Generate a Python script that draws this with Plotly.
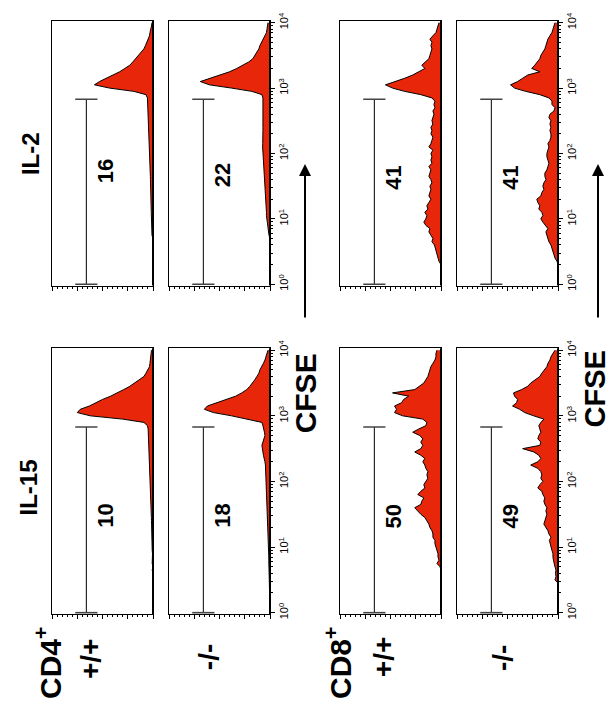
import numpy as np
import plotly.graph_objects as go

# CFSE channel positions (log10 fluorescence), bin centres 10^0 .. 10^4
CFSE_LOG = [round(i * 0.05, 2) for i in range(81)]

# Histogram heights (fraction of panel full scale)
CD4_WT_IL2 = [0, 0, 0, 0, 0, 0, 0, 0, 0, 0,
              0, 0, 0, 0, 0, 0.01, 0.01, 0.012, 0.012, 0.014,
              0.015, 0.016, 0.017, 0.018, 0.018, 0.019, 0.02, 0.02, 0.021, 0.022,
              0.024, 0.025, 0.025, 0.026, 0.027, 0.028, 0.028, 0.029, 0.03, 0.03,
              0.031, 0.033, 0.034, 0.035, 0.036, 0.037, 0.038, 0.04, 0.04, 0.042,
              0.043, 0.044, 0.046, 0.047, 0.048, 0.05, 0.05, 0.055, 0.07, 0.19,
              0.43, 0.58, 0.53, 0.46, 0.39, 0.33, 0.28, 0.23, 0.20, 0.17,
              0.14, 0.12, 0.09, 0.075, 0.06, 0.05, 0.035, 0.03, 0.02, 0.015,
              0.01]
CD4_KO_IL2 = [0, 0, 0, 0, 0, 0, 0, 0, 0, 0,
              0, 0, 0, 0, 0, 0.01, 0.015, 0.02, 0.025, 0.03,
              0.035, 0.035, 0.035, 0.037, 0.038, 0.04, 0.04, 0.042, 0.045, 0.048,
              0.05, 0.052, 0.055, 0.058, 0.06, 0.062, 0.065, 0.068, 0.07, 0.072,
              0.075, 0.075, 0.073, 0.072, 0.07, 0.07, 0.07, 0.07, 0.07, 0.07,
              0.07, 0.072, 0.07, 0.068, 0.068, 0.07, 0.07, 0.07, 0.08, 0.18,
              0.38, 0.60, 0.69, 0.59, 0.48, 0.40, 0.33, 0.27, 0.21, 0.17,
              0.15, 0.13, 0.11, 0.10, 0.085, 0.07, 0.05, 0.035, 0.03, 0.025,
              0.02]
CD4_WT_IL15 = [0, 0, 0, 0, 0, 0, 0, 0, 0, 0,
               0, 0.005, 0, 0.008, 0, 0.008, 0.005, 0.008, 0.005, 0.008,
               0.008, 0.01, 0.008, 0.01, 0.01, 0.012, 0.012, 0.014, 0.015, 0.016,
               0.017, 0.018, 0.02, 0.02, 0.022, 0.022, 0.024, 0.025, 0.026, 0.028,
               0.028, 0.03, 0.03, 0.032, 0.034, 0.035, 0.036, 0.038, 0.04, 0.04,
               0.042, 0.043, 0.044, 0.045, 0.046, 0.046, 0.048, 0.055, 0.09, 0.30,
               0.62, 0.75, 0.72, 0.63, 0.57, 0.50, 0.42, 0.35, 0.29, 0.23,
               0.18, 0.13, 0.09, 0.07, 0.05, 0.035, 0.03, 0.025, 0.02, 0.02,
               0.015]
CD4_KO_IL15 = [0, 0, 0, 0, 0.003, 0.004, 0.005, 0.005, 0.006, 0.006,
               0.007, 0.008, 0.01, 0.01, 0.011, 0.011, 0.012, 0.012, 0.013, 0.014,
               0.015, 0.015, 0.016, 0.017, 0.018, 0.019, 0.02, 0.02, 0.021, 0.022,
               0.024, 0.025, 0.027, 0.028, 0.03, 0.03, 0.031, 0.032, 0.033, 0.034,
               0.035, 0.035, 0.036, 0.038, 0.04, 0.045, 0.05, 0.06, 0.065, 0.07,
               0.075, 0.08, 0.07, 0.06, 0.05, 0.055, 0.06, 0.07, 0.08, 0.22,
               0.38, 0.56, 0.65, 0.62, 0.52, 0.42, 0.34, 0.28, 0.23, 0.20,
               0.17, 0.15, 0.13, 0.11, 0.10, 0.08, 0.065, 0.05, 0.04, 0.03,
               0.02]
CD8_WT_IL2 = [0, 0, 0, 0, 0, 0, 0, 0.02, 0.03, 0.04,
              0.05, 0.06, 0.065, 0.09, 0.08, 0.10, 0.12, 0.11, 0.15, 0.17,
              0.15, 0.14, 0.16, 0.13, 0.14, 0.12, 0.10, 0.12, 0.11, 0.10,
              0.11, 0.09, 0.10, 0.12, 0.11, 0.10, 0.12, 0.09, 0.10, 0.09,
              0.10, 0.08, 0.12, 0.10, 0.09, 0.08, 0.10, 0.09, 0.10, 0.08,
              0.09, 0.08, 0.07, 0.08, 0.06, 0.07, 0.06, 0.09, 0.20, 0.36,
              0.48, 0.55, 0.45, 0.36, 0.28, 0.22, 0.16, 0.19, 0.15, 0.12,
              0.11, 0.10, 0.09, 0.10, 0.09, 0.11, 0.08, 0.05, 0.04, 0.03,
              0.02]
CD8_KO_IL2 = [0, 0, 0, 0, 0, 0, 0, 0.01, 0.03, 0.04,
              0.05, 0.06, 0.07, 0.09, 0.10, 0.11, 0.12, 0.10, 0.13, 0.15,
              0.17, 0.15, 0.16, 0.19, 0.18, 0.20, 0.21, 0.17, 0.16, 0.14,
              0.15, 0.14, 0.12, 0.13, 0.13, 0.11, 0.10, 0.09, 0.10, 0.11,
              0.11, 0.10, 0.09, 0.10, 0.08, 0.07, 0.07, 0.08, 0.07, 0.08,
              0.07, 0.09, 0.08, 0.04, 0.03, 0.06, 0.06, 0.09, 0.18, 0.32,
              0.43, 0.47, 0.40, 0.35, 0.30, 0.18, 0.26, 0.23, 0.20, 0.18,
              0.17, 0.15, 0.13, 0.12, 0.11, 0.10, 0.08, 0.06, 0.05, 0.04,
              0.03]
CD8_WT_IL15 = [0, 0, 0, 0, 0, 0, 0, 0, 0, 0,
               0, 0, 0, 0, 0.01, 0.04, 0.02, 0.03, 0.03, 0.04,
               0.05, 0.06, 0.06, 0.08, 0.08, 0.09, 0.11, 0.12, 0.14, 0.16,
               0.20, 0.23, 0.26, 0.20, 0.19, 0.17, 0.23, 0.20, 0.16, 0.17,
               0.15, 0.13, 0.14, 0.13, 0.15, 0.16, 0.18, 0.16, 0.20, 0.26,
               0.20, 0.18, 0.20, 0.18, 0.21, 0.28, 0.22, 0.15, 0.14, 0.18,
               0.38, 0.46, 0.44, 0.46, 0.39, 0.37, 0.32, 0.48, 0.26, 0.22,
               0.17, 0.15, 0.13, 0.12, 0.11, 0.10, 0.08, 0.06, 0.05, 0.05,
               0.04]
CD8_KO_IL15 = [0, 0, 0, 0, 0, 0, 0, 0, 0, 0,
               0.03, 0.02, 0.025, 0.02, 0.03, 0.04, 0.045, 0.05, 0.05, 0.06,
               0.07, 0.08, 0.085, 0.07, 0.09, 0.10, 0.12, 0.14, 0.13, 0.12,
               0.11, 0.12, 0.11, 0.13, 0.14, 0.13, 0.15, 0.16, 0.20, 0.18,
               0.15, 0.17, 0.16, 0.17, 0.20, 0.27, 0.20, 0.17, 0.19, 0.24,
               0.35, 0.18, 0.17, 0.20, 0.19, 0.17, 0.18, 0.19, 0.17, 0.14,
               0.24, 0.33, 0.38, 0.45, 0.41, 0.40, 0.43, 0.44, 0.36, 0.30,
               0.27, 0.22, 0.18, 0.16, 0.13, 0.11, 0.10, 0.08, 0.07, 0.05,
               0.03]

ROW_NAMES = ["CD4 +/+", "CD4 -/-", "CD8 +/+", "CD8 -/-"]
IL2_DATA = [CD4_WT_IL2, CD4_KO_IL2, CD8_WT_IL2, CD8_KO_IL2]
IL15_DATA = [CD4_WT_IL15, CD4_KO_IL15, CD8_WT_IL15, CD8_KO_IL15]
PCT_IL2 = [16, 22, 41, 41]
PCT_IL15 = [10, 18, 50, 49]

# gate (marker) limits in log10 CFSE
GATE_LOG = [0.0, 2.83]

for arr in IL2_DATA + IL15_DATA:
    assert len(arr) == len(CFSE_LOG)

# ---------------- layout geometry (page pixels) ----------------
W, H = 613, 719


def fx(px):
    return px / W


def fy(py):
    return 1 - py / H


ROW_X = [(52, 153), (169, 270), (340, 441), (457, 558)]
CYT_Y = {"IL-2": (12, 282), "IL-15": (346, 617)}
LABEL_LOG = {"IL-2": [1.72, 1.66, 1.62, 1.62], "IL-15": [1.47, 1.47, 1.46, 1.46]}
RED = "#E8260A"
FONT = "Liberation Sans, Arial, Helvetica, sans-serif"

fig = go.Figure()
layout = {}
shapes = []
annotations = []

minor_vals = [d + np.log10(m) for d in range(4) for m in range(2, 10)]

k = 0
for cyt, datasets, pcts in [("IL-2", IL2_DATA, PCT_IL2), ("IL-15", IL15_DATA, PCT_IL15)]:
    for row, (data, pct) in enumerate(zip(datasets, pcts)):
        k += 1
        xs = f"x{k}" if k > 1 else "x"
        ys = f"y{k}" if k > 1 else "y"
        xa = f"xaxis{k}" if k > 1 else "xaxis"
        ya = f"yaxis{k}" if k > 1 else "yaxis"
        px0, px1 = ROW_X[row]
        py0, py1 = CYT_Y[cyt]
        fig.add_trace(go.Scatter(
            x=data, y=CFSE_LOG, mode="lines", fill="tozerox", fillcolor=RED,
            line=dict(color="black", width=1), xaxis=xs, yaxis=ys,
            hoverinfo="skip", showlegend=False))
        # gate marker
        gx, cap = 0.66, 0.11
        fig.add_trace(go.Scatter(
            x=[gx, gx], y=GATE_LOG, mode="lines", line=dict(color="black", width=1),
            xaxis=xs, yaxis=ys, hoverinfo="skip", showlegend=False))
        for gl in GATE_LOG:
            fig.add_trace(go.Scatter(
                x=[gx - cap, gx + cap], y=[gl, gl], mode="lines",
                line=dict(color="#444444", width=1.6),
                xaxis=xs, yaxis=ys, hoverinfo="skip", showlegend=False))
        labelled = row in (1, 3)
        layout[xa] = dict(
            domain=[fx(px0), fx(px1)], range=[1, 0], anchor=ys,
            showline=True, mirror=True, linecolor="black", linewidth=1,
            ticks="outside", ticklen=4, tickcolor="black", tickwidth=1,
            tickvals=[0, 0.25, 0.5, 0.75, 1.0], showticklabels=False,
            minor=dict(ticks="outside", dtick=0.05, ticklen=2, tickcolor="black"),
            showgrid=False, zeroline=False, fixedrange=True)
        ydict = dict(
            domain=[fy(py1), fy(py0)], range=[-0.02, 4.03], anchor=xs,
            side="right", showline=True, mirror=True, linecolor="black", linewidth=1,
            showgrid=False, zeroline=False, fixedrange=True)
        if labelled:
            ydict.update(
                ticks="outside", ticklen=4, tickcolor="black",
                tickvals=[0, 1, 2, 3, 4],
                ticktext=["10<sup>0</sup>", "10<sup>1</sup>", "10<sup>2</sup>",
                          "10<sup>3</sup>", "10<sup>4</sup>"],
                tickangle=-90, tickfont=dict(family=FONT, size=11, color="black"),
                minor=dict(ticks="outside", tickvals=minor_vals, ticklen=2,
                           tickcolor="black"))
        else:
            ydict.update(ticks="", showticklabels=False)
        layout[ya] = ydict
        # thick baseline on the right edge
        shapes.append(dict(type="line", xref=f"{xs} domain", yref=f"{ys} domain",
                           x0=1, x1=1, y0=0, y1=1, line=dict(color="black", width=2)))
        annotations.append(dict(
            x=0.47, y=LABEL_LOG[cyt][row], xref=xs, yref=ys, text=f"<b>{pct}</b>",
            showarrow=False, textangle=-90,
            font=dict(family=FONT, size=22, color="black")))


def ptext(x, y, text, size):
    annotations.append(dict(
        x=fx(x), y=fy(y), xref="paper", yref="paper", text=f"<b>{text}</b>",
        showarrow=False, textangle=-90, xanchor="center", yanchor="middle",
        borderpad=0, font=dict(family=FONT, size=size, color="black")))


ptext(30, 148, "IL-2", 24)
ptext(28, 488, "IL-15", 24)
ptext(305, 392, "CFSE", 30)
ptext(595, 388, "CFSE", 29)
ptext(48, 667, "CD4<sup>+</sup>", 30)
ptext(90, 663, "+/+", 28)
ptext(208, 661, "-/-", 28)
ptext(338, 667, "CD8<sup>+</sup>", 30)
ptext(383, 661, "+/+", 28)
ptext(502, 662, "-/-", 28)

for axx in (305, 598):
    annotations.append(dict(
        x=fx(axx), y=fy(158), xref="paper", yref="paper", ax=0, ay=155,
        axref="pixel", ayref="pixel", text="", showarrow=True, arrowhead=2,
        arrowsize=1.2, arrowwidth=2, arrowcolor="black"))

fig.update_layout(
    width=W, height=H, margin=dict(l=0, r=0, t=0, b=0),
    paper_bgcolor="white", plot_bgcolor="white",
    shapes=shapes, annotations=annotations, showlegend=False, **layout)

fig.write_html(
    "out.html", config={"displayModeBar": False},
    post_script="document.body.style.margin='0';document.body.style.overflow='hidden';")
